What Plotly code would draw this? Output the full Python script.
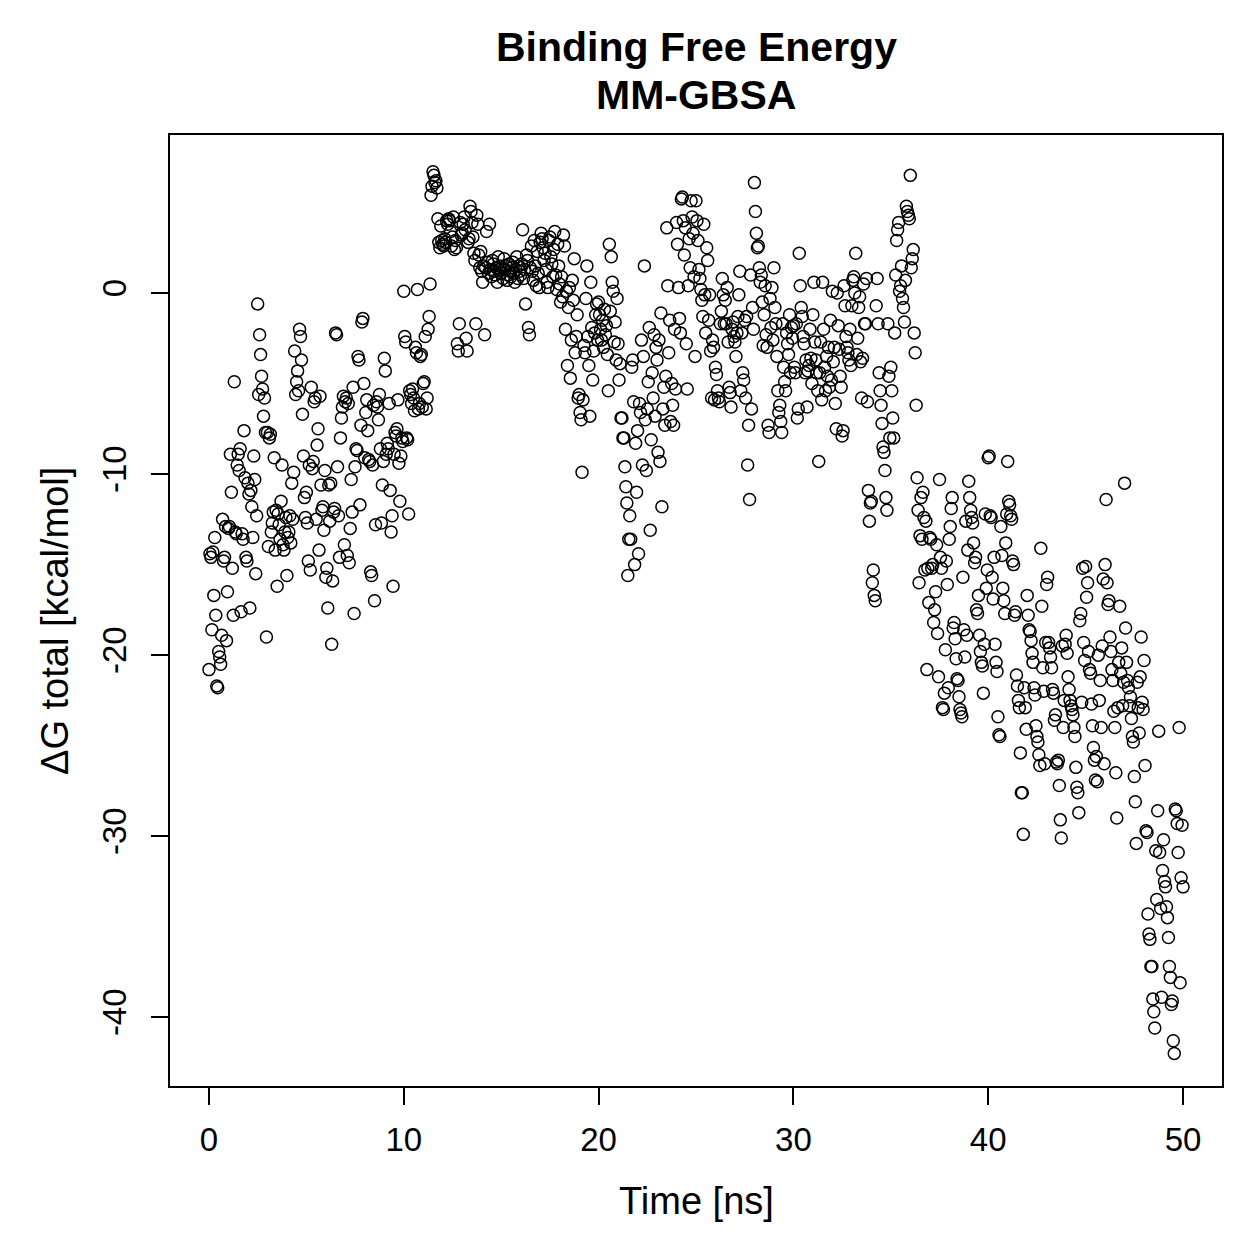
import plotly.graph_objects as go

# Delta G total [kcal/mol], 20 frames per ns (0.05 ns step), grouped by ns
dg_by_ns = [
    [-20.8,-14.4,-14.6,-18.6,-14.3,-16.7,-13.5,-17.8,-21.7,-21.8,-19.8,-20.1,-20.5,-18.9,-12.5,-14.8,-14.6,-12.9,-19.2,-16.5],
    [-13.0,-12.9,-8.9,-11.0,-15.2,-17.8,-4.9,-13.2,-13.3,-9.5,-8.9,-9.8,-8.6,-17.6,-13.3,-13.6,-7.6,-10.2,-14.6,-14.8],
    [-10.5,-11.1,-17.4,-10.9,-11.8,-13.5,-9.0,-10.3,-15.5,-12.3,-0.6,-5.6,-2.3,-3.4,-4.6,-5.3,-6.8,-5.8,-7.7,-19.0],
    [-7.7,-14.0,-8.0,-7.8,-13.2,-12.7,-12.1,-9.1,-14.2,-12.0,-16.2,-12.2,-12.8,-13.6,-11.5,-9.5,-13.9,-14.2,-13.2,-12.4],
    [-15.6,-13.5,-13.2,-12.3,-13.8,-10.5,-12.5,-9.9,-3.2,-5.6,-4.9,-4.3,-5.4,-2.0,-2.4,-3.7,-6.7,-9.0,-11.3,-12.4],
    [-11.0,-12.7,-14.8,-9.5,-15.3,-5.2,-9.7,-9.3,-6.0,-5.8,-12.5,-8.4,-7.5,-14.2,-5.7,-10.6,-12.0,-11.8,-13.1,-9.8],
    [-15.7,-15.2,-17.4,-10.6,-12.6,-10.5,-19.4,-15.9,-12.1,-11.9,-2.2,-2.3,-9.6,-12.3,-14.6,-8.0,-6.9,-6.3,-5.7,-13.9],
    [-6.0,-5.8,-14.5,-6.1,-14.9,-13.0,-10.3,-12.1,-5.2,-17.7,-9.6,-8.6,-8.7,-3.5,-3.7,-11.7,-7.3,-1.6,-1.4,-5.0],
    [-9.1,-6.6,-5.9,-7.6,-9.2,-9.3,-15.4,-15.6,-9.5,-6.2,-17.0,-12.8,-6.0,-6.3,-7.0,-5.6,-8.6,-12.7,-10.6,-9.3],
    [-3.6,-4.3,-8.9,-8.3,-8.6,-6.1,-10.9,-13.2,-12.3,-16.2,-8.9,-7.7,-7.9,-7.5,-5.9,-9.4,-11.5,-9.0,-8.0,-8.2],
    [0.1,-2.4,-2.7,-8.0,-8.1,-12.2,-5.4,-5.6,-6.1,-5.3,-5.8,-6.5,-3.0,-3.3,0.2,-6.4,-6.1,-3.5,-3.4,-6.3],
    [-5.0,-4.9,-2.4,-6.4,-5.8,-2.0,-1.3,0.5,5.4,5.9,6.7,6.5,6.1,6.2,5.8,4.1,2.8,2.5,3.7,2.9],
    [2.7,2.6,3.0,2.8,4.0,3.8,4.1,4.0,3.4,2.6,3.1,4.2,2.4,2.9,2.5,-2.8,-3.2,-1.7,3.9,3.2],
    [3.3,3.8,4.2,3.5,-2.5,-3.2,2.8,3.0,4.8,4.5,3.9,3.1,2.2,1.8,-1.7,4.3,3.8,2.1,1.4,2.3],
    [1.2,0.6,1.5,-2.3,1.4,3.4,1.7,1.1,3.8,1.3,0.9,1.8,1.6,1.2,1.0,1.4,0.6,2.0,1.3,1.5],
    [1.1,1.4,0.8,1.9,1.3,1.5,0.7,1.0,1.6,1.2,0.9,1.4,1.7,1.1,0.6,1.3,2.0,0.8,1.5,1.2],
    [1.0,1.6,3.5,0.8,1.3,-0.6,2.1,1.8,-1.9,-2.3,1.4,2.6,1.2,0.7,2.9,1.5,0.4,2.3,1.1,0.3],
    [2.8,3.3,3.0,2.5,1.8,2.2,1.3,0.6,0.3,2.9,3.1,2.0,1.6,0.9,2.4,3.4,1.0,0.2,2.7,1.5],
    [0.5,-0.5,0.9,-0.2,3.2,2.6,-2.0,0.1,-4.0,-0.8,0.3,-4.7,-2.6,0.7,-0.4,1.9,-3.3,-2.4,-1.2,-5.8],
    [-5.6,-6.6,-7.0,-9.9,-5.9,-2.9,-3.3,-0.3,1.5,-2.4,-4.0,-6.8,0.6,-1.9,-4.8,-3.2,-2.2,-1.2,-0.6,-2.6],
    [-0.5,-1.2,-2.0,-2.6,-1.5,-3.0,-0.9,-2.3,-1.8,-3.4,-5.4,2.7,-1.0,2.0,0.6,0.1,-2.7,-1.6,-3.7,-0.3],
    [-2.8,-4.8,-3.9,-6.9,-6.9,-8.0,-8.0,-9.6,-10.7,-11.6,-15.6,-13.6,-12.3,-13.6,-4.1,-3.7,-6.0,-15.0,-8.3,-11.0],
    [-7.6,-14.4,-6.1,-6.6,-2.6,-9.5,-3.5,1.5,-7.0,-9.8,-6.4,-4.9,-1.9,-13.1,-8.1,-4.4,-5.8,-2.3,-6.8,-3.0],
    [-3.7,-8.8,-2.6,-9.3,-1.1,-11.8,-6.4,-5.2,-7.3,-4.6,3.6,0.4,-3.3,-1.5,-7.1,-5.0,-6.2,-7.3,-2.0,-5.3],
    [3.9,2.7,0.3,-1.4,-2.2,5.2,5.3,4.0,2.1,3.6,-2.8,-5.3,0.4,3.0,1.4,5.1,4.2,3.3,0.9,-3.5],
    [5.1,4.0,2.9,1.3,0.8,0.2,-0.4,-1.3,3.8,-0.1,-2.2,2.5,1.8,-1.5,-0.1,-3.2,-5.8,-2.6,-3.0,-5.9],
    [-4.1,-4.5,-5.4,-5.8,-6.0,-1.7,-1.0,0.8,-0.1,-1.7,-0.4,-1.7,0.3,-2.7,-5.2,-5.5,-6.3,-2.0,-1.6,-2.4],
    [-2.7,-3.5,-2.2,-1.3,-0.1,1.2,-5.4,-2.2,-4.4,-4.8,-1.5,-5.8,-1.3,-9.5,-7.3,-11.4,1.0,-6.4,-0.8,-2.0],
    [6.1,4.5,3.3,2.5,2.6,1.4,0.6,1.0,-0.5,-2.9,-1.2,0.4,-2.3,-3.0,-7.3,-7.7,-0.3,-1.9,0.3,-2.6],
    [1.4,-0.8,-1.7,-3.5,-5.4,-6.6,-6.2,-7.1,-7.7,-1.7,-4.1,-4.9,-5.4,-2.2,-2.8,-3.4,-1.2,-4.4,-1.9,-2.5],
    [-1.8,-4.1,-4.4,-1.7,-6.9,-6.4,2.2,0.4,-0.8,-1.3,-2.4,-2.8,-4.4,-3.7,-6.3,-4.3,-4.0,-2.0,-3.6,-5.0],
    [-1.2,0.6,-2.7,-3.7,-4.4,-5.4,-9.3,-4.4,-2.7,-5.9,0.6,-2.0,-4.1,-5.4,-3.5,-4.6,-3.0,-5.2,-1.5,-4.8],
    [0.1,-3.8,-3.0,-6.1,-7.5,0.0,-1.8,-3.1,-4.6,-5.2,-7.9,-7.6,0.4,-0.7,-2.4,-3.0,-3.3,-3.7,-2.0,-4.0],
    [-0.7,0.7,0.9,0.0,2.2,-3.4,-2.5,-0.8,-0.2,-3.8,-5.8,-3.6,0.5,-1.7,-1.7,0.8,-6.0,-10.9,-12.6,-11.6],
    [-11.5,-16.0,-15.3,-16.7,-17.0,-0.7,0.8,-1.7,-4.4,-5.4,-6.2,-7.2,-8.5,-8.8,-9.8,-11.3,-12.0,-1.7,-4.6,-8.0],
    [-4.1,-5.4,-6.9,-8.0,-2.2,1.0,2.9,3.5,3.9,0.1,0.4,1.5,-0.3,-0.8,-1.6,0.7,4.8,4.5,4.3,4.1],
    [6.5,1.4,1.9,2.4,-2.2,-3.3,-6.2,-10.2,-12.0,-16.0,-13.4,-11.3,-13.6,-11.0,-12.4,-15.3,-12.6,-20.8,-15.2,-17.1],
    [-13.5,-13.6,-15.2,-15.0,-18.2,-17.5,-16.5,-13.9,-18.8,-21.2,-10.3,-14.6,-15.2,-22.9,-23.0,-22.1,-19.7,-14.8,-16.1,-21.8],
    [-13.6,-12.9,-11.9,-11.3,-18.5,-18.2,-19.1,-20.2,-21.3,-21.4,-22.3,-23.0,-23.2,-23.4,-15.7,-18.6,-20.1,-12.6,-18.9,-14.2],
    [-10.4,-11.3,-12.0,-12.4,-12.7,-13.8,-14.9,-14.6,-17.5,-17.7,-16.7,-18.9,-19.8,-20.4,-20.6,-22.1,-19.4,-12.2,-16.3,-15.3],
    [-9.1,-9.0,-12.3,-12.4,-15.7,-16.9,-14.6,-19.4,-20.4,-20.9,-23.4,-24.4,-24.5,-12.9,-14.5,-16.3,-17.0,-17.7,-13.8,-12.2],
    [-9.3,-11.5,-11.7,-12.3,-12.5,-14.8,-15.0,-17.8,-17.6,-21.1,-21.7,-22.5,-22.9,-25.4,-27.6,-27.6,-29.9,-21.8,-22.9,-24.1],
    [-16.7,-17.8,-18.6,-18.7,-19.2,-19.9,-20.4,-21.8,-22.2,-23.9,-24.5,-24.8,-25.5,-26.1,-14.1,-17.3,-20.7,-22.0,-26.0,-19.3],
    [-16.1,-15.7,-19.3,-19.6,-20.1,-20.7,-21.9,-22.1,-23.6,-23.3,-25.9,-26.0,-25.8,-27.2,-29.1,-30.1,-19.5,-24.0,-22.5,-19.4],
    [-18.9,-19.9,-21.2,-21.9,-22.5,-22.8,-23.0,-23.3,-24.0,-24.5,-26.2,-27.3,-27.6,-28.7,-18.1,-17.7,-22.6,-15.2,-19.3,-20.3],
    [-15.1,-16.8,-16.0,-19.8,-20.8,-21.0,-22.7,-23.9,-25.1,-25.8,-26.9,-25.6,-27.0,-20.0,-22.5,-21.4,-24.0,-19.5,-15.8,-26.0],
    [-15.0,-11.4,-16.0,-17.2,-17.0,-19.0,-19.8,-20.8,-21.4,-23.1,-24.0,-26.5,-29.0,-22.9,-20.4,-17.3,-21.0,-19.6,-22.8,-21.5],
    [-10.5,-18.5,-20.4,-21.4,-21.8,-22.8,-22.3,-23.5,-24.5,-24.8,-26.7,-28.1,-30.4,-21.5,-22.9,-24.3,-21.2,-19.0,-22.6,-23.0],
    [-20.3,-26.1,-29.7,-29.8,-34.3,-35.4,-35.7,-37.2,-37.2,-39.0,-39.7,-40.6,-30.8,-33.5,-28.6,-24.2,-30.9,-34.0,-38.9,-31.9],
    [-30.2,-32.5,-32.8,-33.9,-34.5,-35.6,-37.2,-37.8,-39.3,-39.1,-41.3,-42.0,-28.5,-28.6,-29.3,-30.9,-24.0,-38.1,-32.3,-29.4],
    [-32.8],
]
frame_step_ns = 0.05

x_ticks = [0, 10, 20, 30, 40, 50]
y_ticks = [-40, -30, -20, -10, 0]
y_tick_labels = ["-40", "-30", "-20", "-10", "0"]

time_ns = []
dg_total = []
for ns, group in enumerate(dg_by_ns):
    for j, v in enumerate(group):
        time_ns.append(ns + j * frame_step_ns)
        dg_total.append(v)

FONT = "Liberation Sans, Arial, Helvetica, sans-serif"

fig = go.Figure()
fig.add_trace(go.Scatter(
    x=time_ns, y=dg_total, mode="markers",
    marker=dict(symbol="circle-open", size=12, color="black",
                line=dict(color="black", width=1.5)),
    showlegend=False,
))

axis_common = dict(
    showline=True, mirror=True, linecolor="black", linewidth=2,
    ticks="outside", ticklen=17, tickwidth=2, tickcolor="black",
    showgrid=False, zeroline=False,
    tickfont=dict(family=FONT, size=33, color="black"),
)
fig.update_xaxes(range=[-2, 52], tickvals=x_ticks, ticklabelstandoff=6, **axis_common)
fig.update_yaxes(range=[-43.8, 8.73], tickvals=y_ticks, ticktext=y_tick_labels,
                 tickangle=-90, ticklabelstandoff=12, **axis_common)

annotations = [
    dict(text="<b>Binding Free Energy</b>", x=0.5, y=1 + (135 - 47) / 951,
         font=dict(family=FONT, size=41, color="black")),
    dict(text="<b>MM-GBSA</b>", x=0.5, y=1 + (135 - 95) / 951,
         font=dict(family=FONT, size=41, color="black")),
    dict(text="Time [ns]", x=0.5, y=(1086 - 1201) / 951,
         font=dict(family=FONT, size=38, color="black")),
    dict(text="ΔG total [kcal/mol]", x=(55 - 170) / 1052, y=(1086 - 621) / 951,
         textangle=-90,
         font=dict(family=FONT, size=38, color="black")),
]
for a in annotations:
    a.update(xref="paper", yref="paper", showarrow=False,
             xanchor="center", yanchor="middle")

fig.update_layout(
    width=1259, height=1259,
    margin=dict(l=170, r=37, t=135, b=173, pad=0),
    paper_bgcolor="white", plot_bgcolor="white",
    annotations=annotations,
)

fig.write_html("out.html")
